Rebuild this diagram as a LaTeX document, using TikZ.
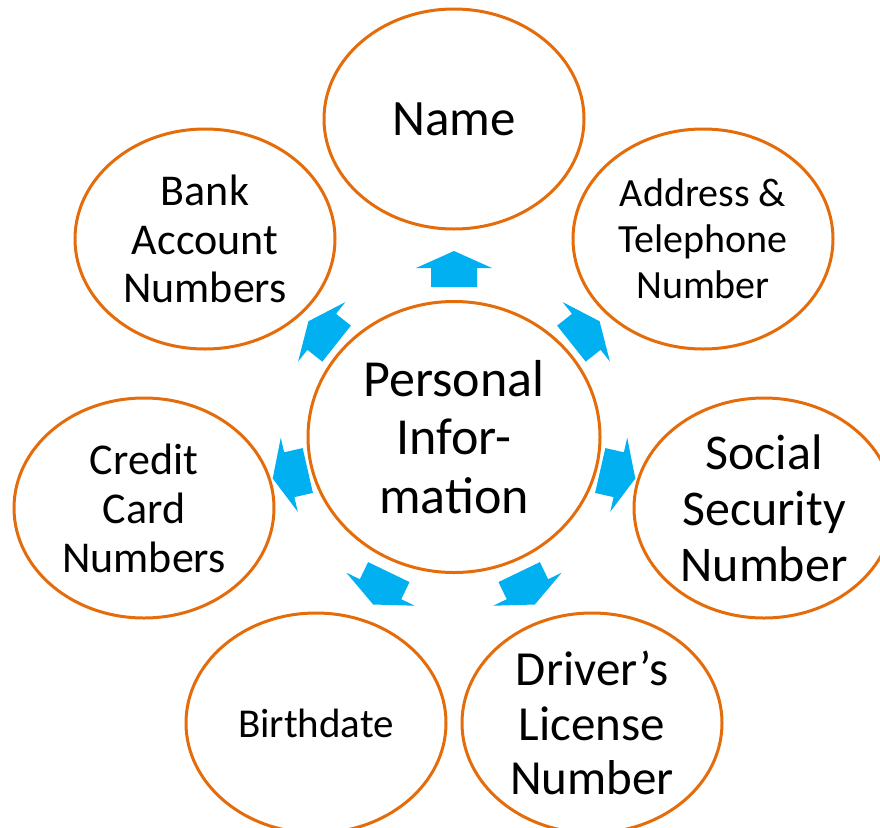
\documentclass[tikz,border=0pt]{standalone}
\usepackage{fontspec}
\setmainfont{Carlito}
\usetikzlibrary{shapes.geometric,calc}

\definecolor{ringorange}{RGB}{228,108,10}
\definecolor{arrowblue}{RGB}{0,176,240}

\tikzset{
  topic/.style={ellipse, draw=ringorange, line width=3pt, fill=white,
    minimum width=260pt, minimum height=220pt, inner sep=0pt, align=center},
  hub/.style={topic, minimum width=292pt, minimum height=271pt},
  blockarrow/.style={fill=arrowblue}
}
\newcommand{\fs}[2]{\fontsize{#1pt}{#2pt}\selectfont}

\begin{document}
\begin{tikzpicture}[x=1pt, y=-1pt]
  \useasboundingbox (0,0) rectangle (880,827);

  \node[hub, font=\fs{52}{58.5}]   (ctr)   at (454, 437) {Personal\\Infor-\\mation};
  \node[topic, font=\fs{51}{57}]   (name)  at (454, 119) {Name};
  \node[topic, font=\fs{40}{46}]   (addr)  at (703, 239) {Address \&\\Telephone\\Number};
  \node[topic, font=\fs{50}{56}]   (ssn)   at (764, 508) {Social\\Security\\Number};
  \node[topic, font=\fs{49}{54.5}] (dl)    at (592, 723) {Driver’s\\License\\Number};
  \node[topic, font=\fs{41}{46}]   (birth) at (316, 723) {Birthdate};
  \node[topic, font=\fs{44}{49}]   (card)  at (144, 508) {Credit\\Card\\Numbers};
  \node[topic, font=\fs{44}{48.5}] (bank)  at (205, 239) {Bank\\Account\\Numbers};

  % block arrows from the hub out to every topic
  \foreach \n in {name,addr,ssn,dl,birth,card,bank}{
    \coordinate (t) at ($(ctr)!150pt!(\n)$);
    \coordinate (h) at ($(ctr)!169pt!(\n)$);
    \coordinate (p) at ($(ctr)!186pt!(\n)$);
    \fill[blockarrow] ($(t)!23pt!90:(\n)$) -- ($(h)!23pt!90:(\n)$)
      -- ($(h)!38pt!90:(\n)$) -- (p) -- ($(h)!38pt!-90:(\n)$)
      -- ($(h)!23pt!-90:(\n)$) -- ($(t)!23pt!-90:(\n)$) -- cycle;
  }
\end{tikzpicture}
\end{document}
